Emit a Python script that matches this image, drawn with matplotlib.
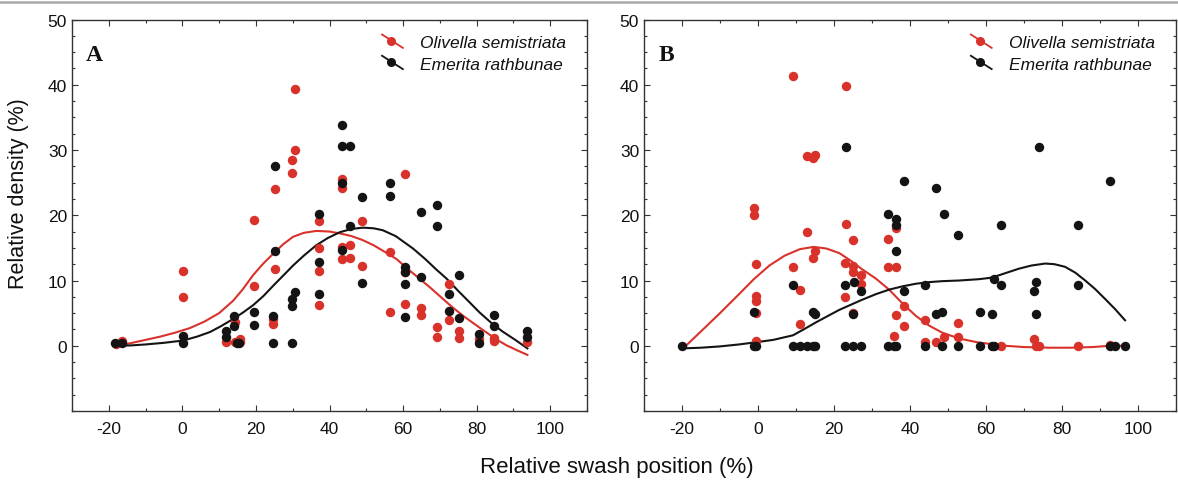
import matplotlib
matplotlib.use("Agg")
import matplotlib.pyplot as plt
from matplotlib.lines import Line2D
from matplotlib.legend_handler import HandlerBase
from matplotlib.ticker import MultipleLocator

RED = "#d8322b"
BLACK = "#141414"

# ---- Panel A: scatter data (relative swash position %, relative density %)
a_oli_x = [-18.0, -16.5, 0.2, 0.2, 12.0, 14.2, 15.6, 15.6, 14.2, 19.4, 19.4,
           25.3, 25.3, 24.7, 24.7, 30.6, 30.6, 29.7, 29.7, 37.2, 37.2, 37.2, 37.2,
           43.5, 43.5, 43.5, 45.5, 43.5, 45.5, 48.8, 48.8, 56.5, 56.5,
           60.5, 60.5, 60.5, 65.0, 65.0, 69.1, 69.1, 72.4, 72.4, 75.2, 75.2,
           80.6, 84.6, 84.6, 93.8]
a_oli_y = [0.3, 0.8, 11.5, 7.4, 0.5, 0.5, 1.0, 0.5, 3.6, 19.2, 9.1,
           24.0, 11.8, 4.1, 3.3, 39.3, 30.0, 28.5, 26.5, 19.1, 15.0, 11.5, 6.3,
           25.5, 24.1, 15.1, 15.5, 13.3, 13.5, 19.1, 12.2, 14.3, 5.2,
           26.3, 11.3, 6.4, 5.8, 4.7, 2.9, 1.3, 9.4, 4.0, 2.3, 1.2,
           1.1, 1.2, 0.8, 0.5]

a_eme_x = [-18.4, -16.5, 0.2, 0.2, 12.0, 12.0, 14.1, 14.1, 15.5, 14.9, 19.4, 19.4,
           25.3, 25.3, 24.7, 24.7, 30.6, 29.7, 29.9, 29.7, 37.2, 37.2, 37.2,
           43.5, 43.5, 45.5, 43.5, 45.5, 43.5, 48.8, 48.8, 56.5, 56.5,
           60.5, 60.5, 60.5, 60.5, 65.0, 65.0, 69.1, 69.1, 72.4, 72.4, 75.2, 75.2,
           80.6, 80.6, 84.6, 84.6, 93.8, 93.8]
a_eme_y = [0.4, 0.4, 1.5, 0.4, 2.2, 1.3, 4.5, 3.1, 0.4, 0.4, 5.1, 3.2,
           27.5, 14.5, 4.6, 0.4, 8.2, 7.2, 6.1, 0.4, 20.2, 12.9, 7.9,
           33.8, 30.6, 30.6, 24.9, 18.4, 14.6, 22.8, 9.6, 24.9, 23.0,
           12.1, 11.3, 9.4, 4.4, 20.5, 10.5, 21.5, 18.4, 7.9, 5.4, 10.8, 4.3,
           1.8, 0.4, 4.7, 3.0, 2.3, 1.3]

# ---- Panel A: fitted curves
a_oli_fit_x = [-18.0, -14.0, -10.0, -6.0, -2.0, 2.0, 6.0, 10.0, 13.8, 16.5,
               19.2, 22.0, 24.7, 27.5, 30.1, 33.0, 36.4, 40.0, 43.0, 46.0,
               49.0, 52.0, 55.0, 58.2, 61.0, 64.0, 67.2, 70.0, 73.0, 76.3,
               79.0, 82.0, 85.3, 88.0, 91.0, 93.8]
a_oli_fit_y = [0.0, 0.4, 0.9, 1.4, 2.0, 2.7, 3.7, 5.0, 6.9, 8.7,
               10.8, 12.6, 14.1, 15.6, 16.7, 17.3, 17.6, 17.5, 17.2, 16.8,
               16.2, 15.4, 14.4, 13.3, 11.9, 10.5, 9.0, 7.6, 6.1, 4.6,
               3.5, 2.3, 1.0, 0.1, -0.7, -1.4]
a_eme_fit_x = [-18.0, -14.0, -10.0, -5.0, 0.2, 4.0, 7.5, 10.5, 13.8, 16.5,
               19.2, 22.0, 24.7, 27.5, 30.1, 33.0, 36.4, 39.5, 42.8, 46.0,
               49.1, 52.0, 54.5, 58.0, 62.7, 66.0, 69.0, 71.8, 75.0, 78.0,
               80.8, 84.0, 87.0, 90.5, 93.8]
a_eme_fit_y = [0.0, 0.05, 0.2, 0.45, 0.8, 1.4, 2.1, 3.0, 4.1, 5.1,
               6.2, 7.6, 9.2, 10.8, 12.3, 13.8, 15.4, 16.5, 17.4, 17.9,
               18.1, 18.0, 17.7, 16.8, 14.9, 13.3, 11.7, 10.3, 8.4, 6.7,
               5.1, 3.5, 2.2, 0.9, -0.4]

# ---- Panel B: scatter data
b_oli_x = [-1.1, -1.1, -0.4, -0.4, -0.4, -0.4, -0.4, 9.1, 9.1, 11.0, 11.0,
           12.8, 12.8, 15.0, 14.6, 15.0, 14.6, 23.2, 23.2, 22.9, 22.9,
           24.9, 24.9, 25.0, 24.9, 27.2, 27.2, 34.1, 34.1, 36.4, 36.4, 36.4, 35.8,
           38.4, 38.4, 44.0, 44.0, 46.8, 48.9, 52.5, 52.5, 63.9,
           72.7, 73.2, 73.9, 84.1, 92.7]
b_oli_y = [21.1, 20.0, 12.6, 7.6, 6.9, 5.0, 0.7, 41.4, 12.0, 8.5, 3.4,
           29.1, 17.4, 29.3, 28.7, 14.5, 13.5, 39.8, 18.6, 12.7, 7.4,
           16.2, 12.2, 11.3, 5.0, 10.8, 9.4, 16.4, 12.0, 18.0, 12.1, 4.7, 1.5,
           6.1, 3.1, 3.9, 0.6, 0.5, 1.4, 3.5, 1.4, 0.0,
           1.0, 0.0, 0.0, 0.0, 0.1]

b_eme_x = [-20.0, -1.1, -1.1, -0.4, 9.1, 9.1, 11.0, 12.8, 14.6, 15.0, 14.6, 15.0,
           23.2, 22.9, 25.2, 24.9, 27.2, 22.9, 24.9, 27.2,
           34.1, 36.4, 36.4, 36.4, 34.1, 35.8, 36.4, 38.4, 38.4, 44.0, 44.0,
           46.8, 46.8, 48.9, 48.5, 48.5, 52.5, 52.5, 58.3, 58.3,
           61.6, 61.6, 62.1, 62.1, 64.0, 64.0, 73.9, 73.2, 72.7, 73.2,
           84.1, 84.1, 92.7, 92.7, 94.0, 96.6]
b_eme_y = [0.0, 5.2, 0.0, 0.0, 9.3, 0.0, 0.0, 0.0, 0.0, 0.0, 5.2, 4.9,
           30.4, 9.3, 9.75, 4.9, 8.4, 0.0, 0.0, 0.0,
           20.2, 19.4, 18.5, 14.5, 0.0, 0.0, 0.0, 25.3, 8.4, 9.3, 0.0,
           24.2, 4.9, 20.2, 5.2, 0.0, 16.9, 0.0, 5.2, 0.0,
           4.9, 0.0, 10.2, 0.0, 18.5, 9.3, 30.4, 9.7, 8.4, 4.9,
           18.5, 9.3, 25.3, 0.0, 0.0, 0.0]

# ---- Panel B: fitted curves
b_oli_fit_x = [-19.7, -15.0, -10.0, -5.0, -1.1, 3.0, 7.0, 11.0, 14.6, 18.0,
               21.4, 24.5, 27.2, 31.0, 34.5, 38.0, 41.5, 45.0, 48.5, 53.0,
               58.0, 65.0, 70.0, 76.5, 82.0, 88.0, 92.7, 96.5]
b_oli_fit_y = [-0.4, 2.2, 5.0, 7.9, 10.2, 12.3, 13.8, 14.8, 15.15, 14.9,
               14.2, 13.0, 11.8, 10.3, 8.6, 6.5, 4.6, 3.1, 2.0, 1.1,
               0.5, 0.0, -0.2, -0.3, -0.3, -0.2, 0.0, 0.0]
b_eme_fit_x = [-19.7, -15.0, -10.0, -5.0, -1.0, 4.0, 9.2, 12.0, 15.3, 18.5,
               21.4, 24.5, 27.2, 31.0, 34.5, 38.0, 41.5, 45.0, 48.5, 53.0,
               58.1, 61.0, 63.4, 66.0, 68.6, 72.0, 75.6, 78.0, 80.8, 83.5,
               86.1, 88.7, 91.3, 94.0, 96.6]
b_eme_fit_y = [-0.4, -0.3, -0.1, 0.2, 0.5, 0.9, 1.6, 2.5, 3.6, 4.6,
               5.5, 6.3, 7.0, 7.9, 8.6, 9.1, 9.5, 9.75, 9.9, 10.0,
               10.2, 10.4, 10.8, 11.3, 11.8, 12.3, 12.6, 12.5, 12.1, 11.2,
               10.0, 8.7, 7.2, 5.6, 3.9]

SPECIES = ["Olivella semistriata", "Emerita rathbunae"]
X_TICKS = [-20, 0, 20, 40, 60, 80, 100]
Y_TICKS = [0, 10, 20, 30, 40, 50]


class DiagonalHandler(HandlerBase):
    """Legend key: short diagonal line with a dot in the middle."""

    def create_artists(self, legend, orig_handle, xdescent, ydescent,
                       width, height, fontsize, trans):
        c = orig_handle.get_color()
        x0, y0 = -xdescent, -ydescent
        line = Line2D([x0, x0 + width], [y0 + height * 1.05, y0 - height * 0.05],
                      color=c, lw=1.3, transform=trans)
        dot = Line2D([x0 + width * 0.45], [y0 + height * 0.55], marker="o",
                     ms=5.5, color=c, ls="", transform=trans)
        return [line, dot]


def style_axes(ax):
    ax.set_xlim(-30, 110)
    ax.set_ylim(-10, 50)
    ax.set_xticks(X_TICKS)
    ax.set_yticks(Y_TICKS)
    ax.xaxis.set_minor_locator(MultipleLocator(10))
    ax.yaxis.set_minor_locator(MultipleLocator(2.5))
    ax.tick_params(which="both", direction="in", top=True, right=True,
                   colors="#333333", labelcolor="#111111", labelsize=12.5,
                   width=0.8)
    ax.tick_params(which="major", length=4)
    ax.tick_params(which="minor", length=2.5)
    ax.tick_params(axis="x", which="major", pad=7)
    for sp in ax.spines.values():
        sp.set_color("#333333")
        sp.set_linewidth(1.0)


def draw_panel(ax, letter, oli_x, oli_y, eme_x, eme_y,
               ofit_x, ofit_y, efit_x, efit_y):
    ax.plot(ofit_x, ofit_y, color=RED, lw=1.5, zorder=2)
    ax.plot(efit_x, efit_y, color=BLACK, lw=1.5, zorder=2)
    ax.plot(oli_x, oli_y, "o", color=RED, ms=6.8, mec="none", zorder=3)
    ax.plot(eme_x, eme_y, "o", color=BLACK, ms=6.8, mec="none", zorder=4)
    style_axes(ax)
    ax.text(0.027, 0.91, letter, transform=ax.transAxes, fontsize=17,
            fontweight="bold", family="Liberation Serif", va="center", ha="left",
            color="#111111")
    handles = [Line2D([], [], color=RED), Line2D([], [], color=BLACK)]
    leg = ax.legend(handles, SPECIES, loc="upper right", frameon=False,
                    handler_map={Line2D: DiagonalHandler()},
                    prop={"style": "italic", "size": 12.5},
                    handlelength=1.2, handletextpad=1.0, labelspacing=0.35,
                    borderaxespad=0.5, bbox_to_anchor=(0.99, 1.0))
    for t in leg.get_texts():
        t.set_color("#111111")


plt.rcParams["font.family"] = ["Liberation Sans", "DejaVu Sans"]
plt.rcParams["axes.unicode_minus"] = False

fig = plt.figure(figsize=(11.78, 4.85), dpi=100)
ax_a = fig.add_axes([72 / 1178, 73 / 485, 515 / 1178, 391.5 / 485])
ax_b = fig.add_axes([644 / 1178, 73 / 485, 532 / 1178, 391.5 / 485])

draw_panel(ax_a, "A", a_oli_x, a_oli_y, a_eme_x, a_eme_y,
           a_oli_fit_x, a_oli_fit_y, a_eme_fit_x, a_eme_fit_y)
draw_panel(ax_b, "B", b_oli_x, b_oli_y, b_eme_x, b_eme_y,
           b_oli_fit_x, b_oli_fit_y, b_eme_fit_x, b_eme_fit_y)

fig.text(0.524, 0.037, "Relative swash position (%)", ha="center", va="center",
         fontsize=16, color="#111111")
fig.text(0.016, 0.6, "Relative density (%)", ha="center", va="center",
         rotation=90, fontsize=15.5, color="#111111")

# thin grey rule at the very top of the page crop
fig.add_artist(Line2D([0, 1], [1 - 2.5 / 485] * 2, color="#a8a8a8", lw=1.8))

fig.savefig("out.png", dpi=100)
